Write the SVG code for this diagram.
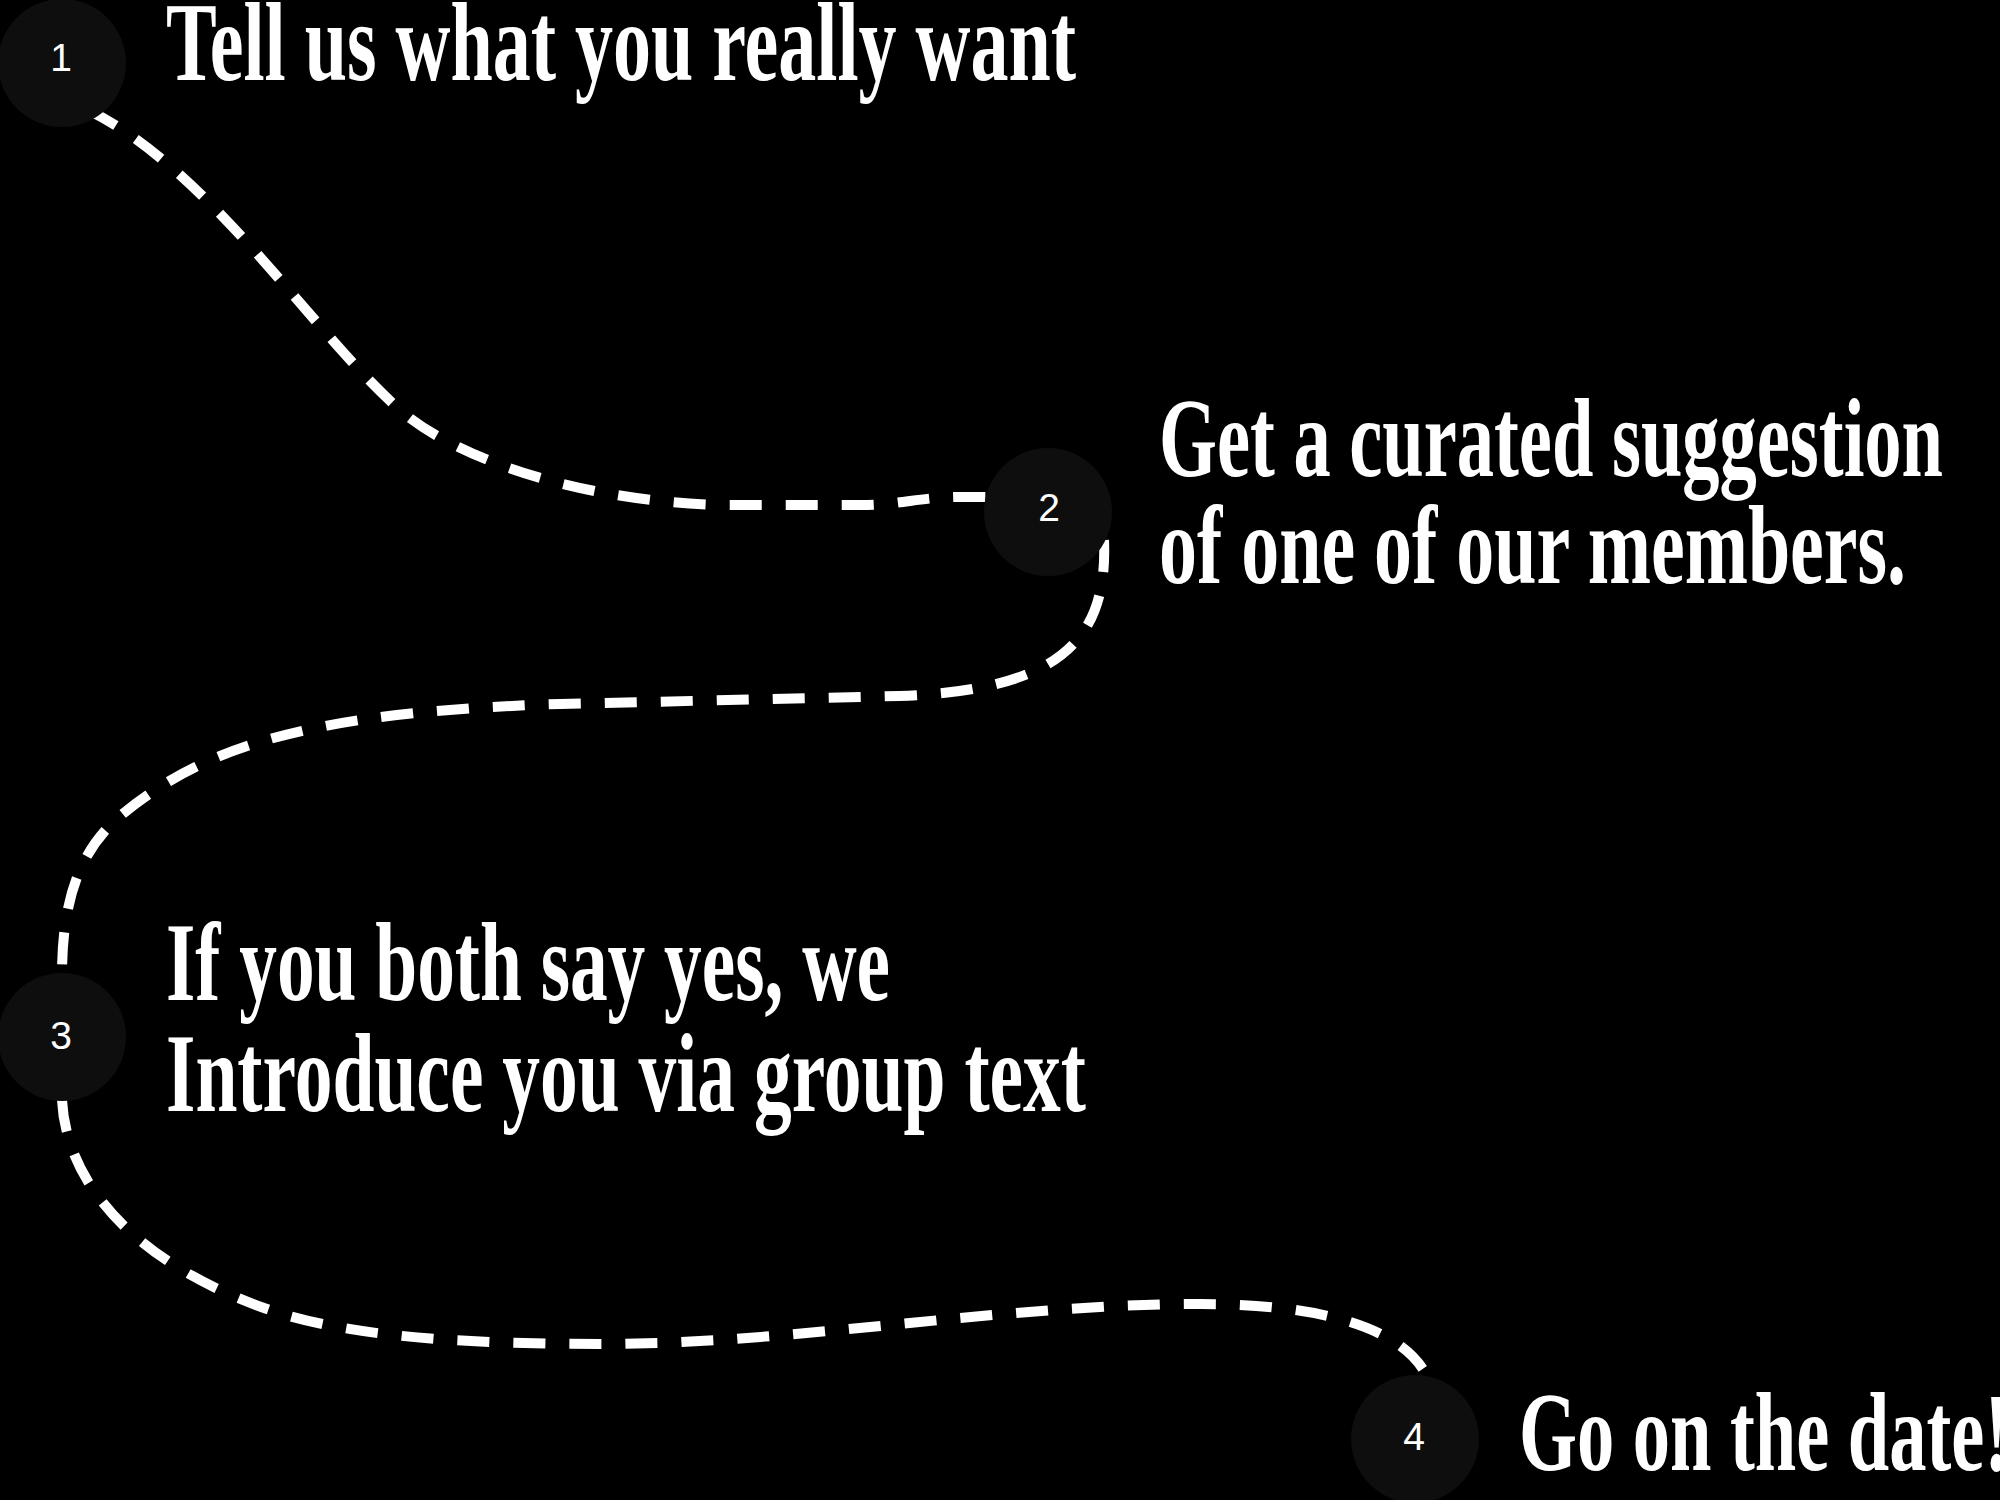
<svg xmlns="http://www.w3.org/2000/svg" width="2000" height="1500" viewBox="0 0 2000 1500">
  <style>
    .bg { fill: #000000; }
    .dot { fill: #0e0e0e; }
    .num { fill: #ffffff; font-family: "Liberation Sans", Arial, sans-serif; font-size: 39px; font-weight: 400; text-anchor: middle; }
    .title { fill: #ffffff; font-family: "Liberation Serif", "Times New Roman", serif; font-size: 112px; font-weight: 700; }
    .link { fill: none; stroke: #ffffff; stroke-width: 10; stroke-dasharray: 32 24; stroke-linecap: butt; }
  </style>
  <rect class="bg" x="0" y="0" width="2000" height="1500"/>

  <g id="connectors">
    <path class="link" d="M 88 110 C 210 170, 310 330, 400 410 C 445 450, 560 500, 720 505 L 860 505 C 900 505, 920 497, 960 497 L 1000 497"/>
    <path class="link" d="M 1104 540 C 1108 640, 1060 690, 900 696 L 560 704 C 300 712, 200 750, 120 816 C 80 850, 62 900, 62 975"/>
    <path class="link" d="M 62 1100 C 66 1180, 130 1260, 264 1308 C 340 1335, 450 1344, 600 1344 C 800 1344, 1000 1304, 1200 1304 C 1300 1304, 1400 1320, 1428 1378 L 1434 1400"/>
  </g>

  <g id="node-1">
    <circle class="dot" cx="62" cy="63" r="64"/>
    <text class="num" x="61" y="71">1</text>
    <text class="title" x="166" y="80" textLength="910" lengthAdjust="spacingAndGlyphs">Tell us what you really want</text>
  </g>

  <g id="node-2">
    <circle class="dot" cx="1048" cy="512" r="64"/>
    <text class="num" x="1049" y="521">2</text>
    <text class="title" x="1159" y="476" textLength="784" lengthAdjust="spacingAndGlyphs">Get a curated suggestion</text>
    <text class="title" x="1159" y="583" textLength="747" lengthAdjust="spacingAndGlyphs">of one of our members.</text>
  </g>

  <g id="node-3">
    <circle class="dot" cx="62" cy="1037" r="64"/>
    <text class="num" x="61" y="1049">3</text>
    <text class="title" x="166" y="1000" textLength="724" lengthAdjust="spacingAndGlyphs">If you both say yes, we</text>
    <text class="title" x="166" y="1111" textLength="920" lengthAdjust="spacingAndGlyphs">Introduce you via group text</text>
  </g>

  <g id="node-4">
    <circle class="dot" cx="1415" cy="1439" r="64"/>
    <text class="num" x="1414" y="1450">4</text>
    <text class="title" x="1519" y="1470" textLength="490" lengthAdjust="spacingAndGlyphs">Go on the date!</text>
  </g>
</svg>
